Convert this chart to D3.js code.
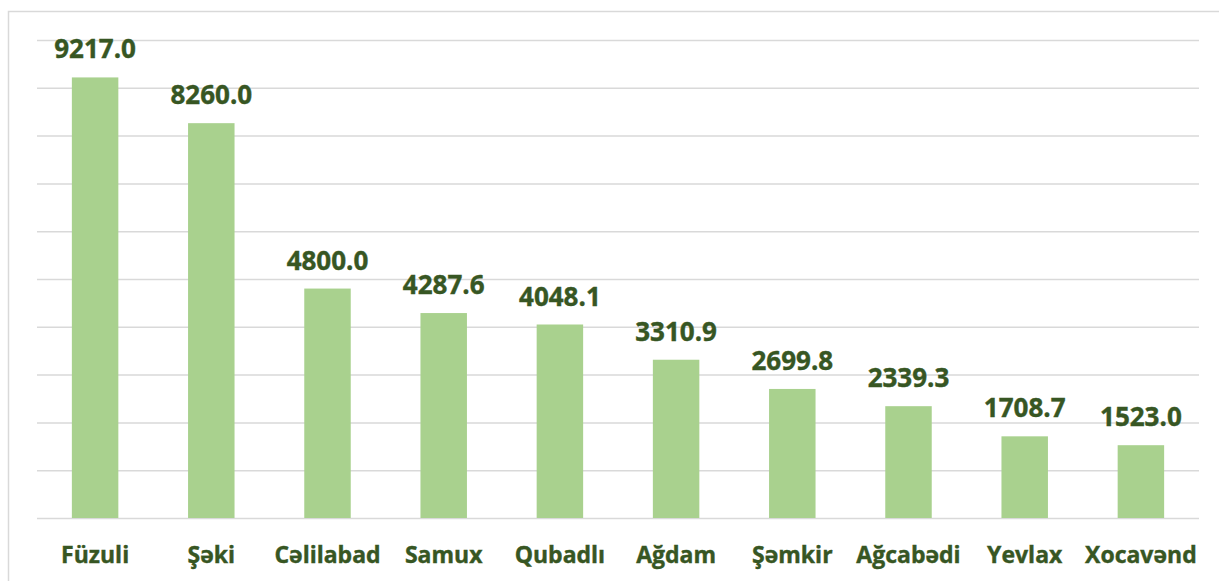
<!DOCTYPE html>
<html>
<head>
<meta charset="utf-8">
<script src="https://cdn.jsdelivr.net/npm/d3@7"></script>
<style>
  body { margin: 0; background: #fff; }
  svg text { font-family: "Open Sans", "Liberation Sans", sans-serif; font-weight: 700; fill: #375623; }
</style>
</head>
<body>
<svg width="1219" height="581"></svg>
<script>
// district names and values
let districts = ["Füzuli", "Şəki", "Cəlilabad", "Samux", "Qubadlı", "Ağdam", "Şəmkir", "Ağcabədi", "Yevlax", "Xocavənd"];
let values = [9217.0, 8260.0, 4800.0, 4287.6, 4048.1, 3310.9, 2699.8, 2339.3, 1708.7, 1523.0];
let gridTicks = [0, 1000, 2000, 3000, 4000, 5000, 6000, 7000, 8000, 9000, 10000];

let svg = d3.select("svg");

// outer chart border
svg.append("rect")
  .attr("x", 8.5).attr("y", 11.5)
  .attr("width", 1230).attr("height", 600)
  .attr("fill", "none")
  .attr("stroke", "#d9d9d9")
  .attr("stroke-width", 1.5);

let plotLeft = 37, plotRight = 1199, plotTop = 40, plotBottom = 518;

let x = d3.scaleBand()
  .domain(districts)
  .range([plotLeft, plotRight])
  .paddingInner(0.6)
  .paddingOuter(0.3);

let y = d3.scaleLinear()
  .domain([0, 10000])
  .range([plotBottom, plotTop]);

// gridlines
svg.append("g")
  .attr("transform", "translate(" + plotLeft + ",0)")
  .call(d3.axisLeft(y).tickValues(gridTicks).tickSize(-(plotRight - plotLeft)).tickFormat(""))
  .call(g => g.select(".domain").remove())
  .call(g => g.selectAll("line").attr("stroke", "#d9d9d9").attr("stroke-width", 1.5));

// bars
svg.selectAll(".bar")
  .data(values)
  .enter()
  .append("rect")
    .attr("class", "bar")
    .attr("x", (d, i) => x(districts[i]))
    .attr("y", d => y(d))
    .attr("width", x.bandwidth())
    .attr("height", d => plotBottom - y(d))
    .attr("fill", "#a9d18e");

// value labels
svg.selectAll(".val")
  .data(values)
  .enter()
  .append("text")
    .attr("class", "val")
    .attr("x", (d, i) => x(districts[i]) + x.bandwidth() / 2)
    .attr("y", d => y(d) - 19)
    .attr("text-anchor", "middle")
    .style("font-size", "26px")
    .style("stroke", "#375623")
    .style("stroke-width", "0.4px")
    .text(d => d.toFixed(1));

// category labels
svg.append("g")
  .attr("transform", "translate(0," + plotBottom + ")")
  .call(d3.axisBottom(x).tickSize(0).tickPadding(0))
  .call(g => g.select(".domain").remove())
  .call(g => g.selectAll("text")
    .attr("dy", null)
    .attr("y", 45)
    .style("font-size", "23px")
    .style("font-family", "\"Open Sans\", sans-serif")
    .style("font-weight", "700")
    .style("stroke", "#375623")
    .style("stroke-width", "0.4px")
    .attr("fill", "#375623"));
</script>
</body>
</html>
